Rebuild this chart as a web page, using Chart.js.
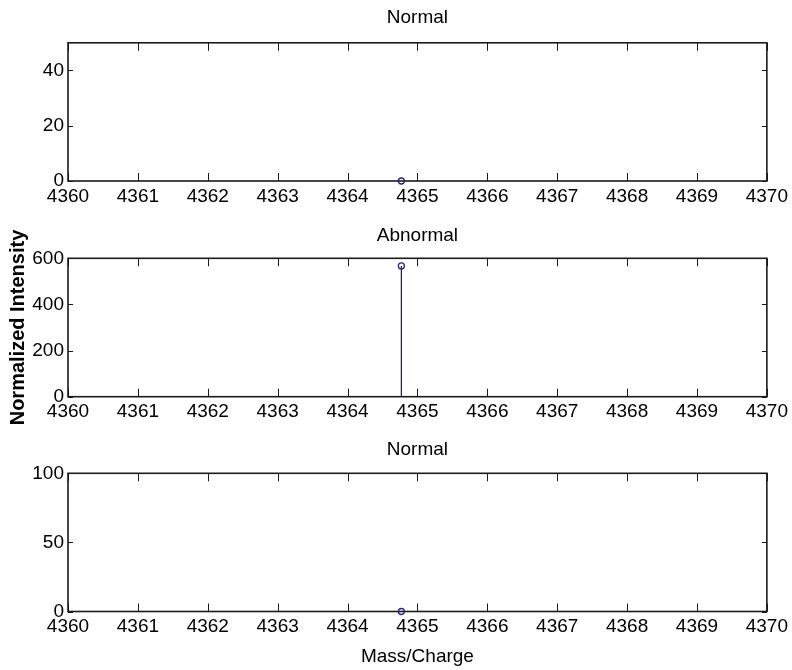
<!DOCTYPE html>
<html>
<head>
<meta charset="utf-8">
<script src="https://cdn.jsdelivr.net/npm/chart.js@4.4.1/dist/chart.umd.min.js"></script>
<style>
  html,body{margin:0;padding:0;background:#fff;}
  body{width:792px;height:670px;position:relative;overflow:hidden;}
  canvas{position:absolute;left:0;}
</style>
</head>
<body>
<canvas id="p1" width="792" height="215" style="top:0px"></canvas>
<canvas id="p2" width="792" height="215" style="top:215px"></canvas>
<canvas id="p3" width="792" height="240" style="top:430px"></canvas>
<script>
// ---- data ----
const massCharge   = [4364.77];
const normalTop    = [0];
const abnormal     = [567];
const normalBottom = [0];
const xTicks       = [4360, 4361, 4362, 4363, 4364, 4365, 4366, 4367, 4368, 4369, 4370];
const yTicksTop    = [0, 20, 40];
const yTicksMid    = [0, 200, 400, 600];
const yTicksBottom = [0, 50, 100];
const titles       = ['Normal', 'Abnormal', 'Normal'];
const xAxisTitle   = 'Mass/Charge';
const yAxisTitle   = 'Normalized Intensity';

const FONT = "'Liberation Sans', Arial, Helvetica, sans-serif";
const STEM = '#1c1c40';
const MARK = '#27287a';

const boxPlugin = {
  id: 'matlabBox',
  beforeDatasetsDraw(chart) {
    const {ctx, chartArea: {left, right, top, bottom}, scales: {x, y}} = chart;
    ctx.save();
    ctx.strokeStyle = '#1a1a1a';
    ctx.lineWidth = 1;
    ctx.beginPath();
    x.ticks.forEach(t => {
      const px = Math.round(x.getPixelForValue(t.value)) + 0.5;
      ctx.moveTo(px, bottom); ctx.lineTo(px, bottom - 8);
      ctx.moveTo(px, top); ctx.lineTo(px, top + 8);
    });
    y.ticks.forEach(t => {
      const py = Math.round(y.getPixelForValue(t.value)) + 0.5;
      ctx.moveTo(left, py); ctx.lineTo(left + 5, py);
      ctx.moveTo(right, py); ctx.lineTo(right - 5, py);
    });
    ctx.stroke();
    ctx.lineWidth = 1.6;
    ctx.strokeRect(left, top, right - left, bottom - top);
    ctx.restore();
  }
};

function stemDatasets(xs, vs) {
  return xs.map((xv, i) => ({
    data: [{x: xv, y: 0}, {x: xv, y: vs[i]}],
    showLine: true,
    borderColor: STEM,
    borderWidth: 1.2,
    pointRadius: [0, 3],
    pointBorderWidth: 1.3,
    pointBorderColor: MARK,
    pointBackgroundColor: 'rgba(0,0,0,0)',
    clip: false
  }));
}

function makeChart(id, values, yMax, yTicks, title, cfg) {
  return new Chart(document.getElementById(id), {
    type: 'scatter',
    data: {datasets: stemDatasets(massCharge, values)},
    options: {
      responsive: false,
      animation: false,
      events: [],
      layout: {padding: {left: 0, right: 25, top: 0, bottom: 0}},
      plugins: {
        legend: {display: false},
        tooltip: {enabled: false},
        title: {
          display: true,
          fullSize: false,
          text: title,
          color: '#000',
          font: {family: FONT, size: 19, weight: 'normal'},
          padding: cfg.titlePad
        }
      },
      scales: {
        x: {
          type: 'linear',
          min: xTicks[0],
          max: xTicks[xTicks.length - 1],
          grid: {display: false, drawTicks: false},
          border: {display: false},
          afterBuildTicks: s => { s.ticks = xTicks.map(v => ({value: v})); },
          afterFit: s => { s.height = cfg.xHeight; },
          ticks: {
            color: '#000',
            font: {family: FONT, size: 19},
            padding: 4,
            maxRotation: 0,
            autoSkip: false,
            callback: v => String(v)
          },
          title: cfg.xTitle ? {
            display: true,
            text: xAxisTitle,
            color: '#000',
            font: {family: FONT, size: 19, weight: 'normal'},
            padding: {top: 0, bottom: 2}
          } : {display: false}
        },
        y: {
          type: 'linear',
          min: 0,
          max: yMax,
          grid: {display: false, drawTicks: false},
          border: {display: false},
          afterBuildTicks: s => { s.ticks = yTicks.map(v => ({value: v})); },
          afterFit: s => { s.width = 68; },
          ticks: {
            color: '#000',
            font: {family: FONT, size: 19},
            padding: 4,
            callback: v => String(v)
          },
          title: cfg.yTitle ? {
            display: true,
            text: yAxisTitle,
            color: '#000',
            font: {family: FONT, size: 20, weight: 'bold'},
            padding: {top: 6, bottom: 0}
          } : {display: false}
        }
      }
    },
    plugins: [boxPlugin]
  });
}

makeChart('p1', normalTop, 50, yTicksTop, titles[0],
  {titlePad: {top: 6, bottom: 14}, xHeight: 34});
makeChart('p2', abnormal, 600, yTicksMid, titles[1],
  {titlePad: {top: 9, bottom: 11.5}, xHeight: 33.3, yTitle: true});
makeChart('p3', normalBottom, 100, yTicksBottom, titles[2],
  {titlePad: {top: 8.5, bottom: 12}, xHeight: 58.5, xTitle: true});
</script>
</body>
</html>
